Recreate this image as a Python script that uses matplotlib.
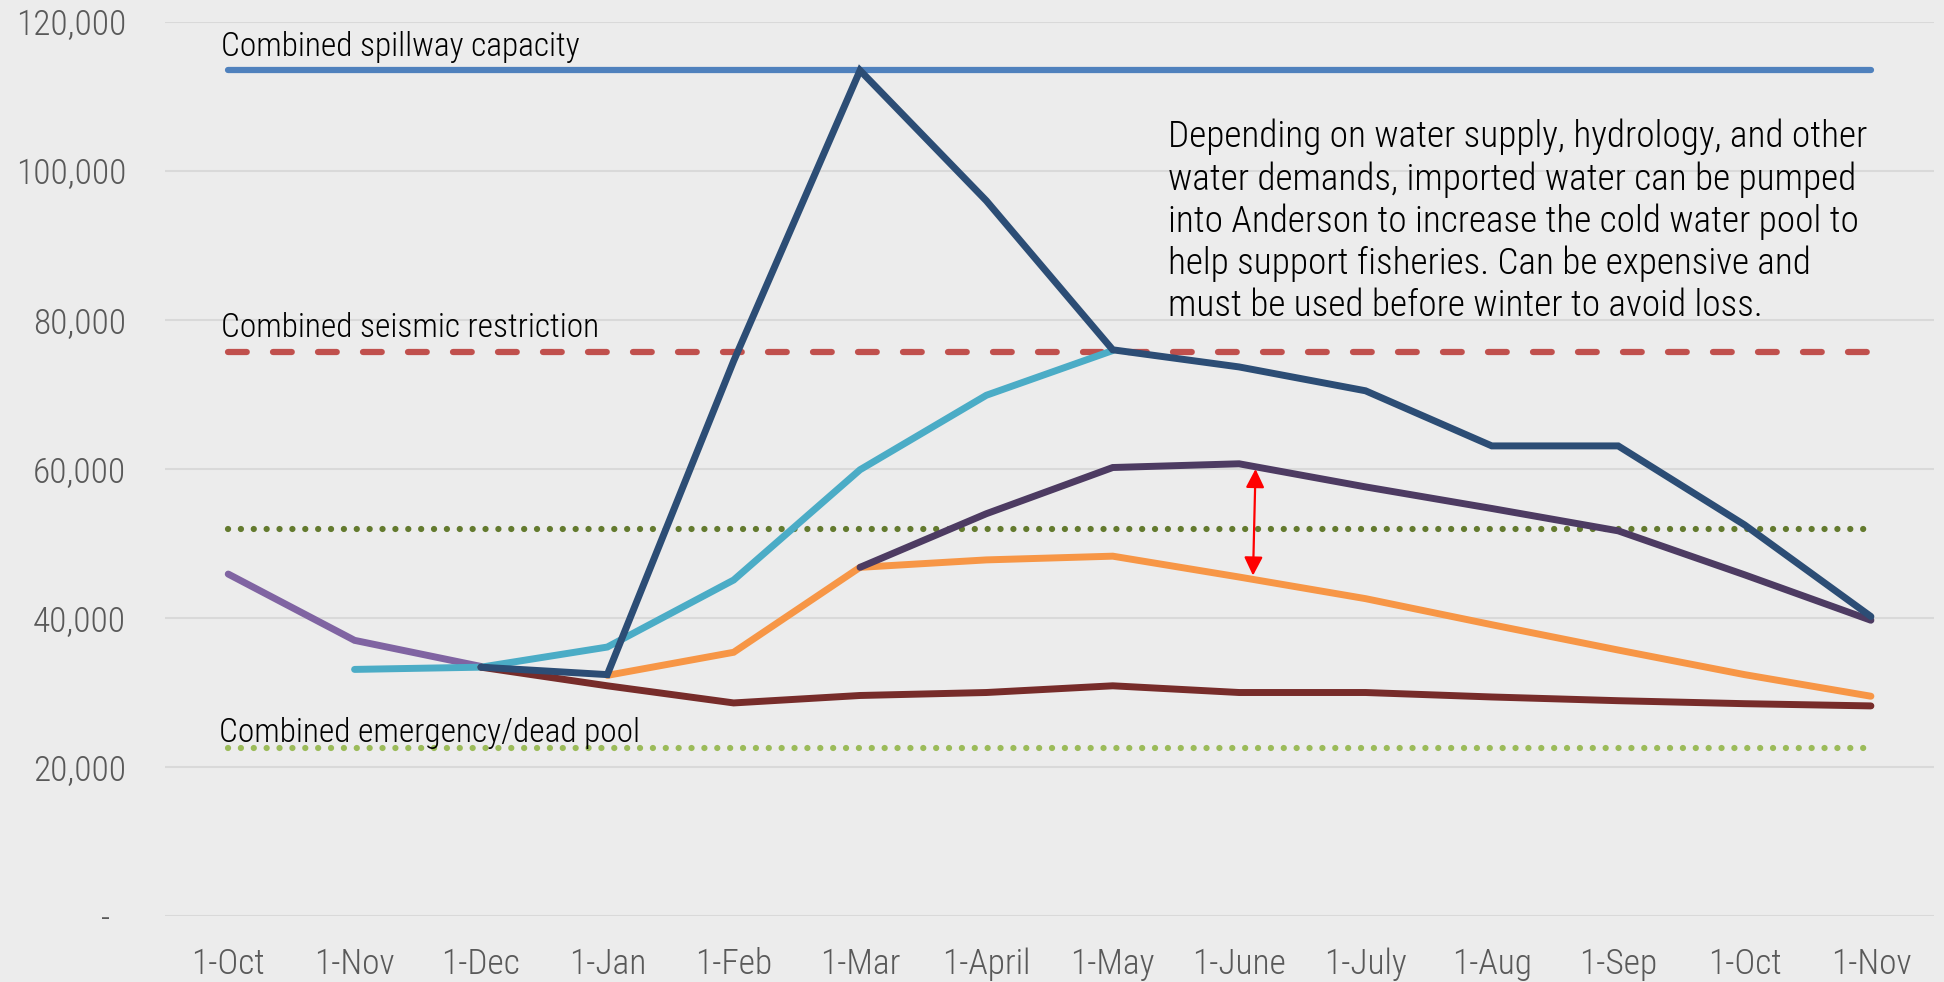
import matplotlib
matplotlib.use('Agg')
import matplotlib.pyplot as plt
from matplotlib import font_manager as fm

months = ['1-Oct', '1-Nov', '1-Dec', '1-Jan', '1-Feb', '1-Mar', '1-April', '1-May',
          '1-June', '1-July', '1-Aug', '1-Sep', '1-Oct', '1-Nov']

spillway = 113500
seismic = 75700
cold_pool = 52000
dead_pool = 22500

# series start at different months (index of first point)
purple_start, purple = 0, [45900, 37000, 33500]
cyan_start, cyan = 1, [33100, 33400, 36100, 45100, 59900, 69900, 75900]
navy_start, navy = 2, [33400, 32400, 74500, 113500, 96000, 76000, 73700, 70500,
                       63100, 63100, 52500, 40200]
orange_start, orange = 3, [32300, 35400, 46800, 47800, 48300, 45500, 42600, 39100,
                           35700, 32400, 29500]
plum_start, plum = 5, [46800, 54000, 60200, 60700, 57600, 54700, 51700, 45800, 39700]
maroon_start, maroon = 2, [33400, 30900, 28600, 29600, 30000, 30900, 30000, 30000,
                           29400, 28900, 28500, 28200]

# pick a narrow font if one is around
names = {f.name for f in fm.fontManager.ttflist}
stretch = 'normal'
scale = 1.0
if 'Roboto Condensed' in names:
    family = 'Roboto Condensed'
elif 'Liberation Sans Narrow' in names:
    family = 'Liberation Sans Narrow'
    scale = 1.05
elif any('DejaVuSansCondensed' in f.fname for f in fm.fontManager.ttflist):
    family = 'DejaVu Sans'
    stretch = 'condensed'
else:
    family = 'DejaVu Sans'
    scale = 0.85
plt.rcParams['font.family'] = family
plt.rcParams['font.stretch'] = stretch
plt.rcParams['font.weight'] = 'light'

bg = '#ECECEC'
fig = plt.figure(figsize=(19.44, 9.82), dpi=100, facecolor=bg)
ax = fig.add_axes([0.0849, 0.0672, 0.910, 0.9104], facecolor=bg)

n = len(months)
xs = list(range(n))
lw = 4.5

ax.plot([0, n - 1], [spillway, spillway], color='#4F81BD', lw=lw, solid_capstyle='round')
ax.plot([0, n - 1], [seismic, seismic], color='#C0504D', lw=lw,
        linestyle=(0, (3.0, 4.2)), dash_capstyle='round')
ax.plot([0, n - 1], [cold_pool, cold_pool], color='#637A2E', lw=lw,
        linestyle=(0, (0.01, 2.05)), dash_capstyle='round')
ax.plot([0, n - 1], [dead_pool, dead_pool], color='#9BBB59', lw=lw,
        linestyle=(0, (0.01, 2.05)), dash_capstyle='round')

series = [
    (purple_start, purple, '#8064A2'),
    (cyan_start, cyan, '#4BACC6'),
    (maroon_start, maroon, '#772C2A'),
    (orange_start, orange, '#F79646'),
    (plum_start, plum, '#4D3B62'),
    (navy_start, navy, '#2C4D75'),
]
for start, vals, col in series:
    ax.plot(xs[start:start + len(vals)], vals, color=col, lw=5,
            solid_capstyle='round', solid_joinstyle='miter')

ax.annotate('', xy=(8.13, 60000), xytext=(8.11, 45700),
            arrowprops=dict(arrowstyle='<|-|>', color='red', lw=1.6,
                            mutation_scale=28, shrinkA=0, shrinkB=0))

lab_fs = 24 * scale
ax.text(-0.06, 115500, 'Combined spillway capacity', fontsize=lab_fs, va='baseline')
ax.text(-0.06, 77700, 'Combined seismic restriction', fontsize=lab_fs, va='baseline')
ax.text(-0.07, 23300, 'Combined emergency/dead pool', fontsize=lab_fs, va='baseline')

note = ('Depending on water supply, hydrology, and other\n'
        'water demands, imported water can be pumped\n'
        'into Anderson to increase the cold water pool to\n'
        'help support fisheries. Can be expensive and\n'
        'must be used before winter to avoid loss.')
ax.text(7.44, 107000, note, fontsize=26.8 * scale, va='top', ha='left', linespacing=1.2)

ax.set_xlim(-0.5, n - 0.5)
ax.set_ylim(0, 120000)
ax.set_xticks(xs)
ax.set_xticklabels(months)
yt = [0, 20000, 40000, 60000, 80000, 100000, 120000]
ax.set_yticks(yt)
ax.set_yticklabels(['-  '] + [f'{v:,}' for v in yt[1:]])
ax.tick_params(axis='both', length=0, colors='#595959', labelsize=25.5 * scale)
ax.tick_params(axis='x', pad=23)
ax.tick_params(axis='y', pad=28)
ax.grid(axis='y', color='#D9D9D9', lw=1.5)
ax.set_axisbelow(True)
for s in ax.spines.values():
    s.set_visible(False)

fig.savefig('out.png', dpi=100, facecolor=bg)
